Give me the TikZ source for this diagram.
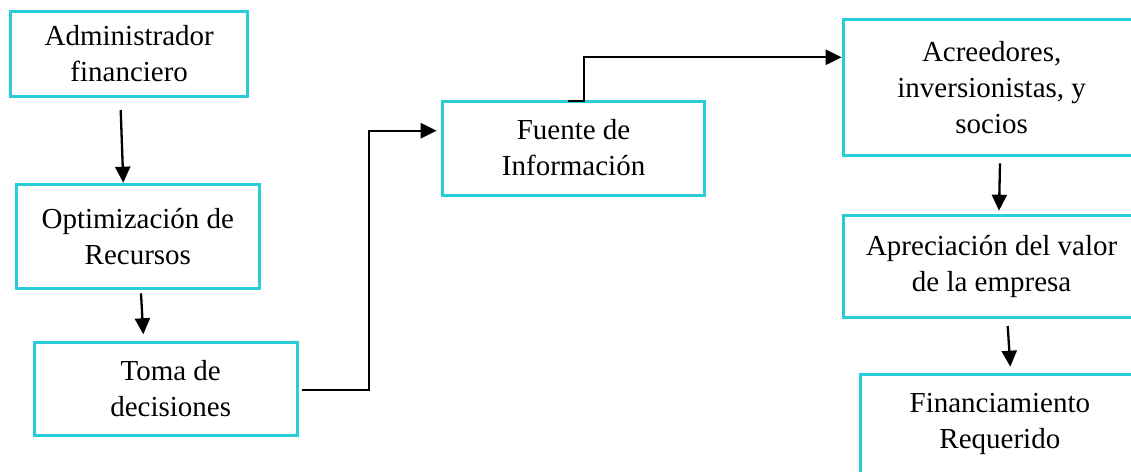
\documentclass[tikz,border=0pt]{standalone}
\usepackage{fontspec}
\setmainfont{Liberation Serif}
\usetikzlibrary{arrows.meta}
\definecolor{boxcyan}{RGB}{41,204,217}
\tikzset{
  box/.style={draw=boxcyan, line width=3pt, inner sep=0pt, align=center,
    font=\fontsize{29}{36}\selectfont},
  arr/.style={draw=black, line width=2.3pt, -{Triangle[length=16pt,width=15pt]}}
}
\begin{document}
\begin{tikzpicture}[x=1pt,y=-1pt]
\useasboundingbox (0,0) rectangle (1131,471);
\begin{scope}
\clip (0,0) rectangle (1131,471);
\node[box, minimum width=237pt, minimum height=85.7pt] (adm) at (129.2,54) {Administrador\\financiero};
\node[box, minimum width=242.3pt, minimum height=103.3pt] (opt) at (137.85,236.35) {Optimización de\\Recursos};
\node[box, minimum width=262.7pt, minimum height=92.6pt] (toma) at (165.65,389) {\hspace*{10pt}Toma de\\\hspace*{10pt}decisiones};
\node[box, minimum width=261.8pt, minimum height=94pt] (fue) at (573.6,148) {Fuente de\\Información};
\node[box, minimum width=296.7pt, minimum height=135.7pt] (acr) at (991.65,87.15) {Acreedores,\\inversionistas, y\\socios};
\node[box, minimum width=296.7pt, minimum height=102.3pt] (apr) at (991.65,266.15) {Apreciación del valor\\de la empresa};
\node[box, minimum width=278.3pt, minimum height=99.4pt] (fin) at (999.85,424) {Financiamiento\\Requerido};
\end{scope}
% connector end points
\coordinate (a1s) at (120.7,110);
\coordinate (a1e) at (123.3,182.7);
\coordinate (a2s) at (141,293.3);
\coordinate (a2e) at (143.3,334.3);
\coordinate (a3s) at (301.7,390);
\coordinate (a3e) at (436.7,130.7);
\coordinate (a4s) at (567.7,101);
\coordinate (a4b) at (584.3,101);
\coordinate (a4e) at (841.7,57.3);
\coordinate (a5s) at (1000,163.3);
\coordinate (a5e) at (999,210.7);
\coordinate (a6s) at (1007.7,326);
\coordinate (a6e) at (1010.3,366.7);
\draw[arr] (a1s) -- (a1e);
\draw[arr] (a2s) -- (a2e);
\draw[arr] (a3s) -- (369.3,390) -- (369.3,130.7) -- (a3e);
\draw[arr] (a4s) -- (a4b) -- (a4b |- a4e) -- (a4e);
\draw[arr] (a5s) -- (a5e);
\draw[arr] (a6s) -- (a6e);
\end{tikzpicture}
\end{document}
